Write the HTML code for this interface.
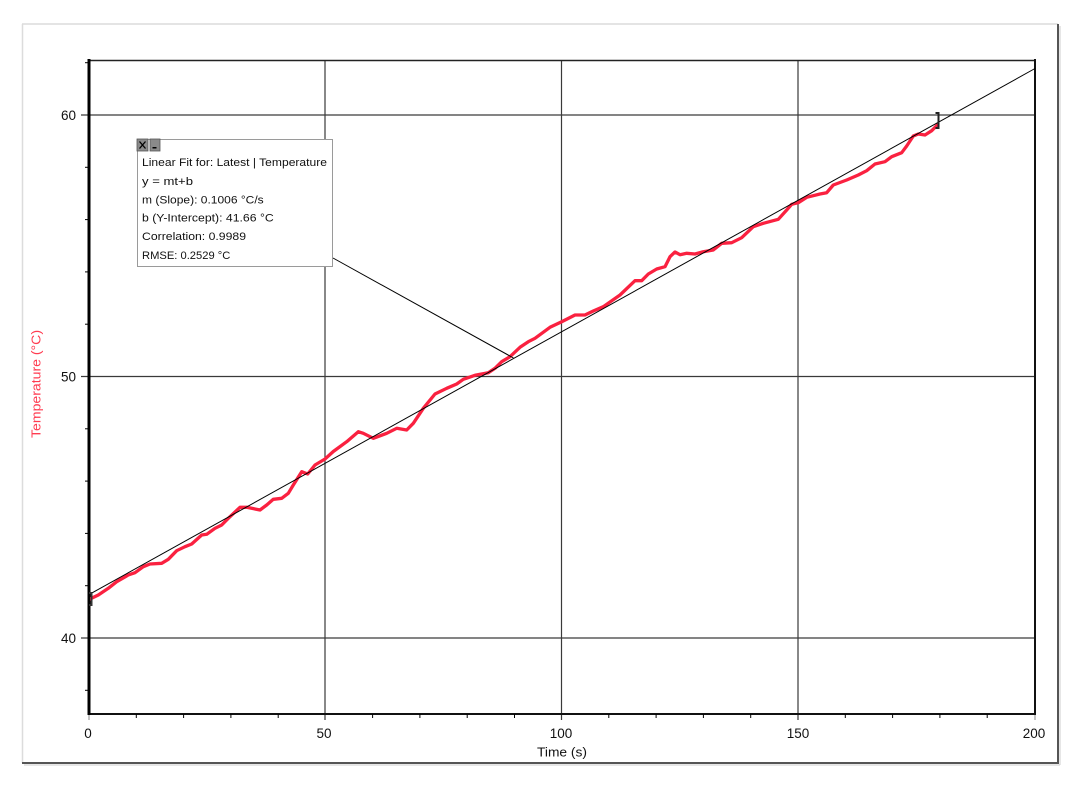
<!DOCTYPE html>
<html><head><meta charset="utf-8"><style>
html,body{margin:0;padding:0;background:#fff;}
svg{display:block;}
text{font-family:"Liberation Sans","DejaVu Sans",sans-serif;}
</style></head><body>
<svg width="1076" height="788" viewBox="0 0 1076 788" xmlns="http://www.w3.org/2000/svg">
<rect width="1076" height="788" fill="#fff"/>
<!-- panel border -->
<line x1="22" y1="24" x2="1058" y2="24" stroke="#dcdcdc" stroke-width="1.5"/>
<line x1="22.5" y1="24" x2="22.5" y2="763" stroke="#dcdcdc" stroke-width="1.5"/>
<line x1="1058" y1="24" x2="1058" y2="764" stroke="#555" stroke-width="2"/>
<line x1="22" y1="763" x2="1059" y2="763" stroke="#555" stroke-width="2"/>
<line x1="1060" y1="26" x2="1060" y2="765" stroke="#ccc" stroke-width="1"/>
<line x1="24" y1="765" x2="1060" y2="765" stroke="#ccc" stroke-width="1"/>

<!-- gridlines -->
<g stroke="#3a3a3a" stroke-width="1.2">
<line x1="81" y1="115" x2="1035" y2="115"/>
<line x1="81" y1="376.5" x2="1035" y2="376.5"/>
<line x1="81" y1="638" x2="1035" y2="638"/>
<line x1="325" y1="60" x2="325" y2="720"/>
<line x1="561.5" y1="60" x2="561.5" y2="720"/>
<line x1="798" y1="60" x2="798" y2="720"/>
</g>
<line x1="89" y1="714" x2="89" y2="720" stroke="#888" stroke-width="1"/>
<line x1="1035" y1="714" x2="1035" y2="720" stroke="#888" stroke-width="1"/>
<!-- frame -->
<line x1="89" y1="60.5" x2="1036" y2="60.5" stroke="#222" stroke-width="1.5"/>
<line x1="1035" y1="59" x2="1035" y2="715" stroke="#111" stroke-width="2"/>
<line x1="88" y1="714" x2="1036" y2="714" stroke="#111" stroke-width="2"/>
<line x1="89" y1="59" x2="89" y2="715" stroke="#000" stroke-width="3"/>

<!-- y minor ticks -->
<g stroke="#000" stroke-width="1">
<line x1="85" y1="62.7" x2="89" y2="62.7"/>
<line x1="85" y1="167.3" x2="89" y2="167.3"/>
<line x1="85" y1="219.6" x2="89" y2="219.6"/>
<line x1="85" y1="271.9" x2="89" y2="271.9"/>
<line x1="85" y1="324.2" x2="89" y2="324.2"/>
<line x1="85" y1="428.8" x2="89" y2="428.8"/>
<line x1="85" y1="481.1" x2="89" y2="481.1"/>
<line x1="85" y1="533.4" x2="89" y2="533.4"/>
<line x1="85" y1="585.7" x2="89" y2="585.7"/>
<line x1="85" y1="690.3" x2="89" y2="690.3"/>
</g>
<!-- x minor ticks -->
<g stroke="#000" stroke-width="1">
<line x1="136.3" y1="714" x2="136.3" y2="718"/>
<line x1="183.6" y1="714" x2="183.6" y2="718"/>
<line x1="230.9" y1="714" x2="230.9" y2="718"/>
<line x1="278.2" y1="714" x2="278.2" y2="718"/>
<line x1="372.6" y1="714" x2="372.6" y2="718"/>
<line x1="419.9" y1="714" x2="419.9" y2="718"/>
<line x1="467.2" y1="714" x2="467.2" y2="718"/>
<line x1="514.5" y1="714" x2="514.5" y2="718"/>
<line x1="608.8" y1="714" x2="608.8" y2="718"/>
<line x1="656.1" y1="714" x2="656.1" y2="718"/>
<line x1="703.4" y1="714" x2="703.4" y2="718"/>
<line x1="750.7" y1="714" x2="750.7" y2="718"/>
<line x1="845.3" y1="714" x2="845.3" y2="718"/>
<line x1="892.6" y1="714" x2="892.6" y2="718"/>
<line x1="939.9" y1="714" x2="939.9" y2="718"/>
<line x1="987.2" y1="714" x2="987.2" y2="718"/>
</g>

<!-- tick labels -->
<g font-size="13.5" fill="#111">
<text x="76" y="120" text-anchor="end">60</text>
<text x="76" y="381.5" text-anchor="end">50</text>
<text x="76" y="643" text-anchor="end">40</text>
<text x="88" y="738" text-anchor="middle">0</text>
<text x="324" y="738" text-anchor="middle">50</text>
<text x="561" y="738" text-anchor="middle">100</text>
<text x="798" y="738" text-anchor="middle">150</text>
<text x="1034" y="738" text-anchor="middle">200</text>
</g>
<text x="562" y="756.5" font-size="12.5" text-anchor="middle" fill="#111" textLength="50" lengthAdjust="spacingAndGlyphs">Time (s)</text>
<text transform="translate(40.5,384) rotate(-90)" font-size="12.5" text-anchor="middle" fill="#ff3b50" textLength="108" lengthAdjust="spacingAndGlyphs">Temperature (°C)</text>

<defs><clipPath id="pc"><rect x="90" y="61" width="944" height="652"/></clipPath></defs>

<!-- data curve -->
<polyline clip-path="url(#pc)" fill="none" stroke="#fa2140" stroke-width="3.3" stroke-linejoin="round" stroke-linecap="round" points="90,599 98.3,595 108.3,588.3 116.7,581.7 128.3,575 135,572.7 143.3,566.7 150,564 161.7,563.3 168.3,559.3 176.7,550.7 185,546.7 191.7,544 201.7,535 206.7,534.3 215,528.3 221.7,525 228.3,518.3 240,507.3 246.7,507.3 260,510 266.7,505 273.3,499.3 281.7,498.3 288.3,493.3 293.3,485 301.7,471.7 307.7,474 315,465 325,459 333.3,451.5 346.7,441.7 358.3,431.7 363.3,433.3 373.3,438.3 386.7,433.3 396.7,428.3 406.7,430 413.3,423.3 423.3,408.3 435,394 446.7,388.3 456.7,384 463.3,379.3 475,375.3 488.3,372.7 495,368.3 501.7,361.7 510,356.7 520,347.3 528.3,341.7 535,338.3 550,327.3 561.7,321.7 575,315 585,315 593.3,311 603.3,306.7 620,295 635,280.7 641.7,280.7 648.3,274 656.7,269 665,266.7 670,256.7 675,252 680,254.7 686.7,253.3 695,254 703.3,251.7 713.3,250 721.7,243.3 731.7,242.7 741.7,237.7 753.3,226.7 763.3,223.3 778.3,219.3 786.7,210 791.7,204.3 798.3,202.7 806.7,197.3 820,194 826.7,192.7 833.3,185 846.7,180 858.3,175 866.7,170.7 875,164 885,161.7 891.7,156.7 901.7,152.7 906.7,146 913.3,136 918.3,134 925,135 931.7,130.7 937.3,125"/>

<!-- fit line -->
<line x1="89" y1="594.6" x2="1035" y2="68.5" stroke="#000" stroke-width="1"/>
<!-- range brackets -->
<path d="M935.5,113 H938.5 V128 H935.5" fill="none" stroke="#222" stroke-width="2"/>
<path d="M91.5,592 V606" fill="none" stroke="#333" stroke-width="2"/>
<rect x="89" y="592" width="3" height="2" fill="#333"/>
<rect x="89" y="604" width="3" height="2" fill="#333"/>

<!-- leader line -->
<line x1="333" y1="258" x2="513.5" y2="358" stroke="#000" stroke-width="1"/>

<!-- annotation box -->
<rect x="137.5" y="139.5" width="195" height="127" fill="#fff" stroke="#9a9a9a" stroke-width="1"/>
<rect x="137" y="139" width="11" height="12" fill="#8a8a8a" stroke="#555" stroke-width="0.8"/>
<path d="M139.5,141.5 L145.5,148.5 M145.5,141.5 L139.5,148.5" stroke="#000" stroke-width="1.3"/>
<rect x="150" y="139" width="10" height="12" fill="#8a8a8a" stroke="#555" stroke-width="0.8"/>
<rect x="152.5" y="147" width="4" height="1.5" fill="#000"/>
<g font-size="11" fill="#111">
<text x="142" y="166" textLength="185" lengthAdjust="spacingAndGlyphs">Linear Fit for: Latest | Temperature</text>
<text x="142" y="185" textLength="51" lengthAdjust="spacingAndGlyphs">y = mt+b</text>
<text x="142" y="203.5" textLength="121.7" lengthAdjust="spacingAndGlyphs">m (Slope): 0.1006 °C/s</text>
<text x="142" y="221.5" textLength="131.7" lengthAdjust="spacingAndGlyphs">b (Y-Intercept): 41.66 °C</text>
<text x="142" y="240" textLength="104" lengthAdjust="spacingAndGlyphs">Correlation: 0.9989</text>
<text x="142" y="259" textLength="88.3" lengthAdjust="spacingAndGlyphs">RMSE: 0.2529 °C</text>
</g>
</svg>
</body></html>
